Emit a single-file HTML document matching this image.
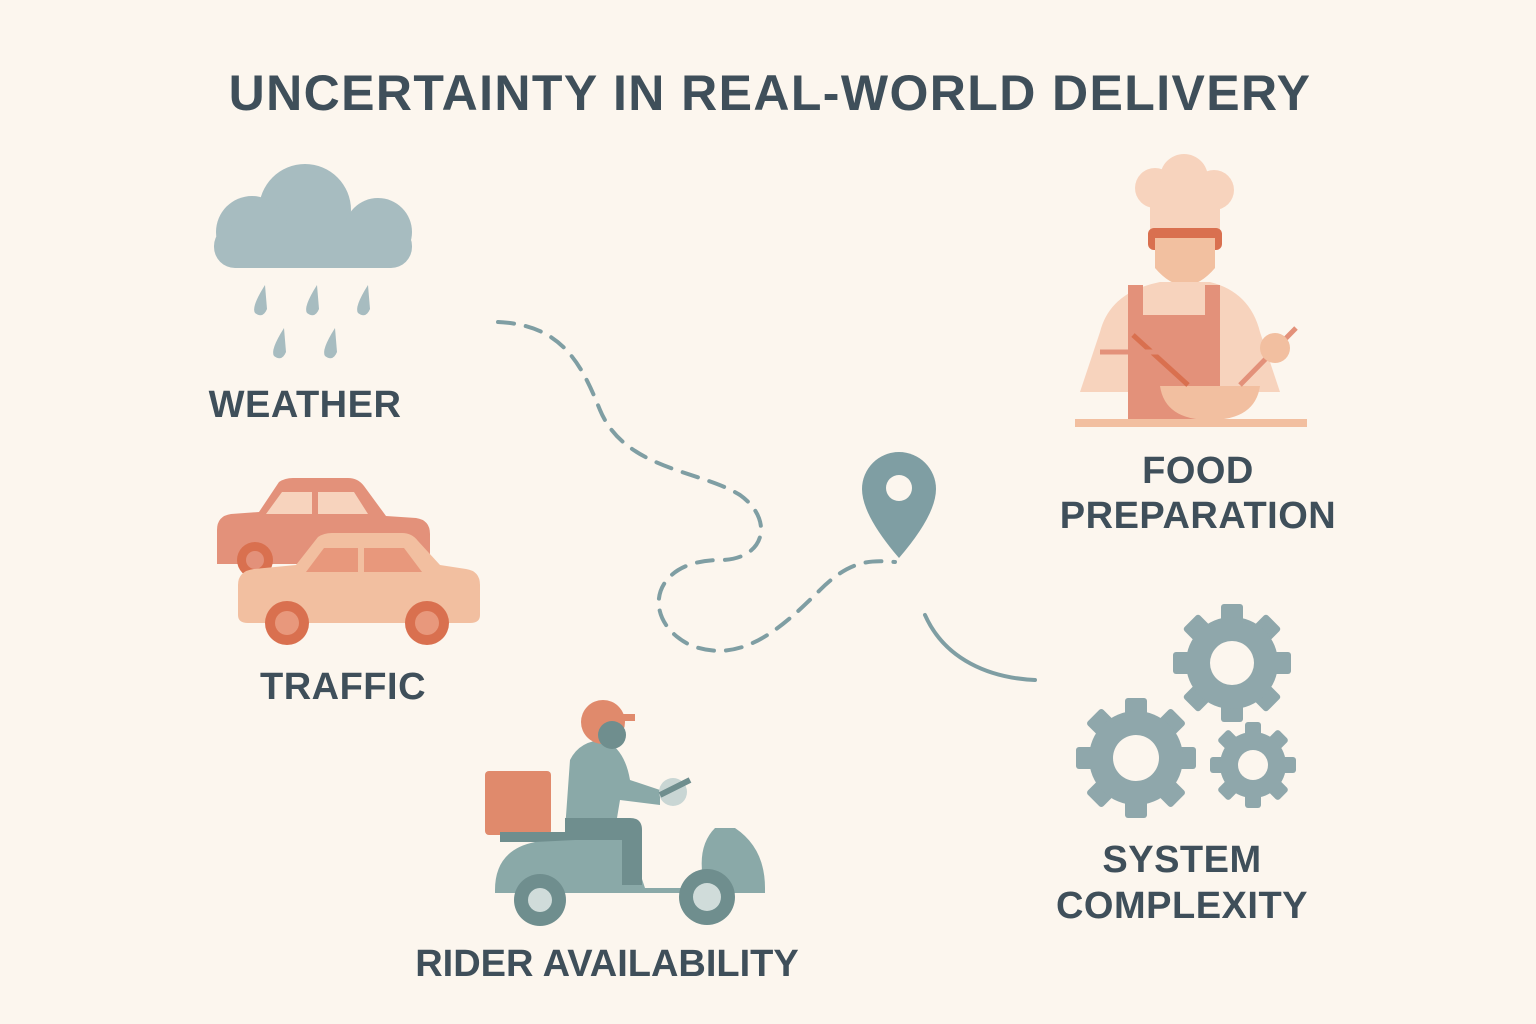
<!DOCTYPE html>
<html><head><meta charset="utf-8"><style>
html,body{margin:0;padding:0;background:#fcf6ee;}
svg{display:block;}
text{font-family:"Liberation Sans",sans-serif;font-weight:bold;fill:#3f4f5a;}
</style></head><body>
<svg width="1536" height="1024" viewBox="0 0 1536 1024">
<rect width="1536" height="1024" fill="#fcf6ee"/>
<text x="770" y="110" font-size="50" text-anchor="middle" letter-spacing="1.4">UNCERTAINTY IN REAL-WORLD DELIVERY</text>

<g fill="#a7bcc0">
<circle cx="305" cy="210" r="46"/><circle cx="252" cy="232" r="36"/><circle cx="378" cy="232" r="34"/>
<rect x="214" y="225" width="198" height="43" rx="21"/>
<g>
<path d="M265 285 q-14 22 -10 28 q8 6 12 -4 z"/><path d="M317 285 q-14 22 -10 28 q8 6 12 -4 z"/><path d="M368 285 q-14 22 -10 28 q8 6 12 -4 z"/>
<path d="M284 328 q-14 22 -10 28 q8 6 12 -4 z"/><path d="M335 328 q-14 22 -10 28 q8 6 12 -4 z"/>
</g></g>
<text x="305" y="417" font-size="38" text-anchor="middle" letter-spacing="0.5">WEATHER</text>

<g>
<path d="M217 530 q0 -14 14 -16 l28 -2 l20 -30 q6 -4 14 -4 l55 0 q10 0 16 8 l22 30 l30 2 q14 2 14 16 l0 30 l-213 0 z" fill="#e3917a"/>
<path d="M266 514 l16 -22 l30 0 l0 22 z M318 492 l36 0 l14 22 l-50 0 z" fill="#f7d3bd"/>
<circle cx="255" cy="560" r="18" fill="#d9704f"/><circle cx="255" cy="560" r="9" fill="#e3917a"/>
<path d="M238 585 q0 -14 16 -16 l42 -4 l22 -28 q6 -4 14 -4 l70 0 q10 0 16 8 l22 24 l26 4 q14 2 14 16 l0 30 q0 8 -10 8 l-222 0 q-10 0 -10 -8 z" fill="#f2bfa0"/>
<path d="M306 572 l18 -24 l34 0 l0 24 z M364 548 l40 0 l18 24 l-58 0 z" fill="#e8987c"/>
<circle cx="287" cy="623" r="22" fill="#d9704f"/><circle cx="287" cy="623" r="12" fill="#e8987c"/>
<circle cx="427" cy="623" r="22" fill="#d9704f"/><circle cx="427" cy="623" r="12" fill="#e8987c"/>
</g>
<text x="343" y="699" font-size="38" text-anchor="middle" letter-spacing="0.5">TRAFFIC</text>

<path d="M498 322 C560 325 580 360 600 410 C625 470 700 470 740 495 C775 520 765 560 720 560 C650 560 640 620 690 645 C740 665 780 630 820 590 C850 560 870 560 895 562" fill="none" stroke="#7f9ea3" stroke-width="4" stroke-dasharray="16 12" stroke-linecap="round"/>
<path d="M925 615 C945 660 990 678 1035 680" fill="none" stroke="#7f9ea3" stroke-width="4" stroke-linecap="round"/>
<g>
<path d="M899 452 a37 37 0 0 1 37 37 q0 26 -37 69 q-37 -43 -37 -69 a37 37 0 0 1 37 -37 z" fill="#7f9ea3"/>
<circle cx="899" cy="488" r="13" fill="#fcf6ee"/>
</g>

<g>
<circle cx="1155" cy="188" r="20" fill="#f7d3bd"/><circle cx="1184" cy="178" r="24" fill="#f7d3bd"/><circle cx="1214" cy="190" r="20" fill="#f7d3bd"/>
<rect x="1150" y="190" width="70" height="42" fill="#f7d3bd"/>
<rect x="1148" y="228" width="74" height="22" rx="6" fill="#d9704f"/>
<path d="M1155 238 l60 0 l0 30 q-30 35 -60 0 z" fill="#f2c0a0"/>
<path d="M1160 282 l50 0 q40 10 50 50 l20 60 l-200 0 l20 -60 q10 -40 60 -50 z" fill="#f7d3bd"/>
<path d="M1128 285 l15 0 l0 30 l62 0 l0 -30 l15 0 l0 135 l-92 0 z" fill="#e3917a"/>
<path d="M1160 386 l100 0 q-5 34 -50 34 q-45 0 -50 -34 z" fill="#f2bfa0"/>
<line x1="1133" y1="335" x2="1188" y2="385" stroke="#d9704f" stroke-width="5"/>
<line x1="1296" y1="328" x2="1240" y2="385" stroke="#e3917a" stroke-width="5"/>
<circle cx="1275" cy="348" r="15" fill="#f2bfa0"/>
<line x1="1100" y1="352" x2="1160" y2="352" stroke="#e3917a" stroke-width="5"/>
<rect x="1075" y="419" width="232" height="8" fill="#f2bfa0"/>
</g>
<text x="1198" y="483" font-size="38" text-anchor="middle" letter-spacing="0.5">FOOD</text>
<text x="1198" y="528" font-size="38" text-anchor="middle" letter-spacing="0.5">PREPARATION</text>

<g id="gears" fill="#8fa7ab"></g>
<text x="1182" y="872" font-size="38" text-anchor="middle" letter-spacing="0.5">SYSTEM</text>
<text x="1182" y="918" font-size="38" text-anchor="middle" letter-spacing="0.5">COMPLEXITY</text>

<g>
<rect x="485" y="771" width="66" height="64" rx="4" fill="#e08a6c"/>
<rect x="500" y="832" width="80" height="10" fill="#6f8e8e"/>
<path d="M495 890 q0 -40 40 -48 l80 -4 q15 0 20 20 l10 30 l60 0 q-10 -40 10 -60 l20 0 q30 20 30 60 l0 5 l-270 0 z" fill="#8aa9a8"/>
<circle cx="540" cy="900" r="26" fill="#6f8e8e"/><circle cx="540" cy="900" r="12" fill="#d0dcda"/>
<circle cx="707" cy="897" r="28" fill="#6f8e8e"/><circle cx="707" cy="897" r="14" fill="#d0dcda"/>
<path d="M570 760 q10 -20 35 -20 q20 10 25 40 l30 10 l0 15 l-40 -5 l-5 30 l-50 0 z" fill="#8aa9a8"/>
<path d="M565 818 l65 0 q12 0 12 12 l0 55 l-20 0 l0 -45 l-57 0 z" fill="#6f8e8e"/>
<circle cx="603" cy="722" r="22" fill="#e08a6c"/><rect x="610" y="714" width="25" height="7" fill="#e08a6c"/>
<circle cx="612" cy="735" r="14" fill="#6f8e8e"/>
<circle cx="673" cy="792" r="14" fill="#c9d6d4"/>
<line x1="660" y1="795" x2="690" y2="780" stroke="#6f8e8e" stroke-width="6"/>
</g>
<text x="607" y="976" font-size="38" text-anchor="middle" letter-spacing="0">RIDER AVAILABILITY</text>
</svg>
<script>
const g=document.getElementById('gears');
const ns='http://www.w3.org/2000/svg';
function gear(cx,cy,r,teeth,tw,th,hole,name){
  const grp=document.createElementNS(ns,'g');
  
  
  for(let i=0;i<teeth;i++){
    const t=document.createElementNS(ns,'rect');
    t.setAttribute('x',cx-tw/2);t.setAttribute('y',cy-r-th);
    t.setAttribute('width',tw);t.setAttribute('height',th+6);t.setAttribute('rx',3);
    t.setAttribute('transform',`rotate(${i*360/teeth} ${cx} ${cy})`);
    grp.appendChild(t);
  }
  const c=document.createElementNS(ns,'circle');
  c.setAttribute('cx',cx);c.setAttribute('cy',cy);c.setAttribute('r',r);grp.appendChild(c);
  const h=document.createElementNS(ns,'circle');
  h.setAttribute('cx',cx);h.setAttribute('cy',cy);h.setAttribute('r',hole);h.setAttribute('fill','#fcf6ee');grp.appendChild(h);
  g.appendChild(grp);
}
gear(1232,663,46,8,22,13,22,'gear-large-top');
gear(1136,758,47,8,22,13,23,'gear-large-left');
gear(1253,765,33,8,16,10,15,'gear-small');
</script>
</body></html>
